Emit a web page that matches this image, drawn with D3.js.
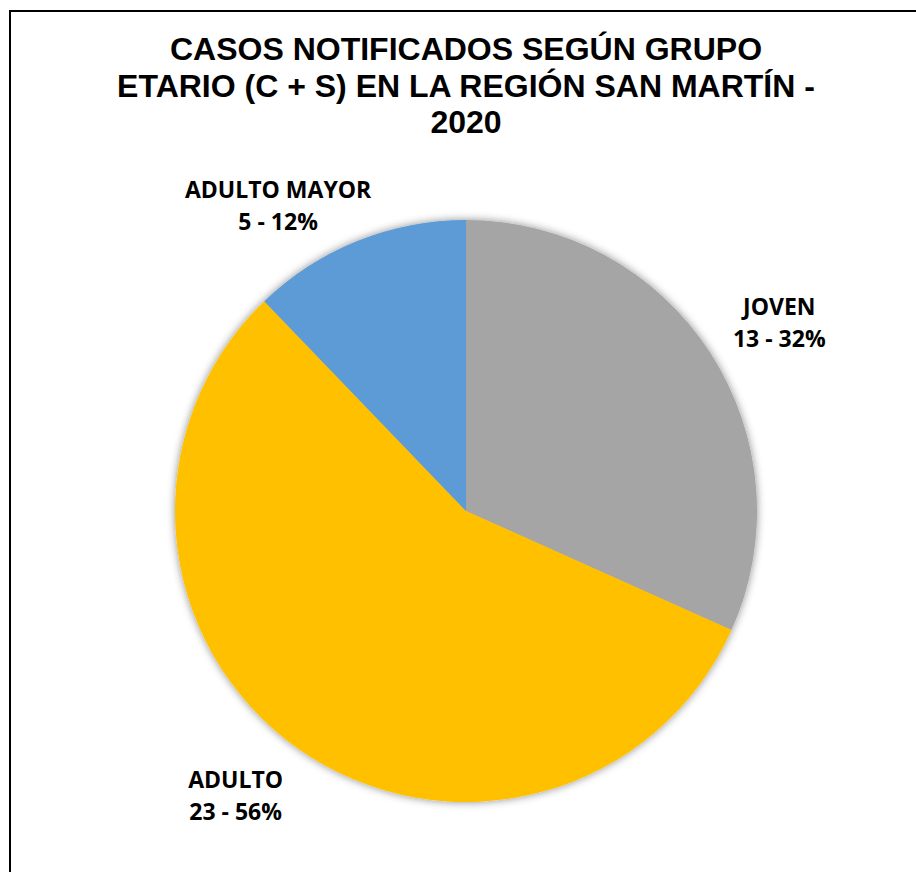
<!DOCTYPE html>
<html>
<head>
<meta charset="utf-8">
<script src="https://cdn.jsdelivr.net/npm/d3@7"></script>
<style>
  html, body { margin: 0; padding: 0; background: #fff; }
  svg { display: block; }
</style>
</head>
<body>
<svg id="chart" width="916" height="872"></svg>
<script>
// ---- Data ----
const categories = ["JOVEN", "ADULTO", "ADULTO MAYOR"];
const values = [13, 23, 5];
const percentLabels = ["32%", "56%", "12%"];
const colors = ["#A5A5A5", "#FFC000", "#5B9BD5"];
const titleLines = ["CASOS NOTIFICADOS SEGÚN GRUPO", "ETARIO (C + S) EN LA REGIÓN SAN MARTÍN -", "2020"];

// ---- Layout ----
const W = 916, H = 872;
const cx = 466, cy = 511, R = 291;
// label placement: radius and angular nudge (radians) per slice
const labelRadius = [362, 372, 352];
const labelAngleNudge = [0.05, 0.055, -0.18];

const svg = d3.select("#chart");

// frame (cropped at right/bottom)
svg.append("rect")
  .attr("x", 10).attr("y", 11)
  .attr("width", 1000).attr("height", 1000)
  .attr("fill", "none").attr("stroke", "#000").attr("stroke-width", 2);

// title
const title = svg.append("text")
  .attr("text-anchor", "middle")
  .attr("font-family", "'Liberation Sans', Arial, sans-serif")
  .attr("font-weight", "bold")
  .attr("font-size", 32)
  .attr("fill", "#000");
titleLines.forEach((t, i) => {
  title.append("tspan").attr("x", 466).attr("y", 60 + i * 36.5).text(t);
});

// shadow filter
const defs = svg.append("defs");
const f = defs.append("filter").attr("id", "shadow")
  .attr("x", "-10%").attr("y", "-10%").attr("width", "120%").attr("height", "120%");
f.append("feDropShadow").attr("dx", 0).attr("dy", 0)
  .attr("stdDeviation", 4).attr("flood-color", "#000").attr("flood-opacity", 0.45);

const data = categories.map((c, i) => ({ cat: c, value: values[i], pct: percentLabels[i], color: colors[i], i }));

const pie = d3.pie().value(d => d.value).sort(null);
const arcs = pie(data);
const arc = d3.arc().innerRadius(0).outerRadius(R);

const g = svg.append("g").attr("transform", `translate(${cx},${cy})`);
g.append("g").attr("filter", "url(#shadow)")
  .selectAll("path").data(arcs).join("path")
  .attr("d", arc)
  .attr("fill", d => d.data.color);

// labels
g.selectAll("text.lbl").data(arcs).join("text")
  .attr("class", "lbl")
  .attr("text-anchor", "middle")
  .attr("font-family", "'Open Sans', sans-serif")
  .attr("font-weight", "bold")
  .attr("font-size", 23)
  .attr("fill", "#000")
  .each(function(d) {
    const i = d.data.i;
    const a = (d.startAngle + d.endAngle) / 2 + labelAngleNudge[i];
    const la = d3.arc().innerRadius(labelRadius[i]).outerRadius(labelRadius[i]).startAngle(a).endAngle(a);
    const [x, y] = la.centroid();
    const t = d3.select(this);
    t.append("tspan").attr("x", x).attr("y", y - 15).text(d.data.cat);
    t.append("tspan").attr("x", x).attr("y", y + 17).text(`${d.data.value} - ${d.data.pct}`);
  });
</script>
</body>
</html>
